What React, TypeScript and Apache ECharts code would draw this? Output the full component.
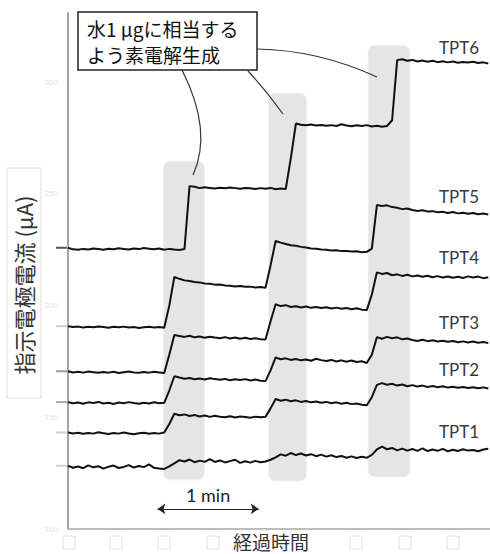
import React, { useEffect, useRef } from "react";
import * as echarts from "echarts";

// elapsed time (s), one sample every 3 s
const TIMES = [0,3,6,9,12,15,18,21,24,27,30,33,36,39,42,45,48,51,54,57,60,63,66,69,72,75,78,81,84,87,90,93,96,99,102,105,108,111,114,117,120,123,126,129,132,135,138,141,144,147,150,153,156,159,162,165,168,171,174,177,180,183,186,189,192,195,198,201,204,207,210,213,216,219,222,225,228,231,234,237,240,243,246,249];

const TPT6 = [225.9,225.2,225.0,225.4,225.1,225.6,225.3,225.0,225.5,225.2,225.7,225.4,225.1,225.6,225.3,225.8,225.5,225.2,225.6,225.0,225.4,225.1,224.9,225.3,
  253.5,253.2,
  252.6,253.0,252.7,252.4,252.8,252.5,252.9,252.6,252.3,252.7,252.5,252.2,252.6,252.3,252.7,252.1,252.4,252.2,
  266.0,281.5,
  281.0,280.7,281.1,280.6,280.9,280.5,280.8,280.4,281.2,280.6,280.3,280.7,280.4,280.8,280.2,280.5,280.1,280.4,
  283.0,
  309.9,310.3,309.6,310.0,309.3,309.7,309.2,309.6,309.0,309.4,308.9,309.3,308.7,309.1,308.8,309.2,308.6,308.9,308.4];

const TPT5 = [190.8,190.4,190.6,190.2,190.5,190.3,190.7,190.4,190.1,190.5,190.3,190.6,190.2,190.4,190.0,190.3,190.5,190.2,190.4,190.1,
  200.0,212.8,
  212.0,211.3,211.0,210.6,210.4,209.9,209.8,209.4,209.5,209.0,208.9,208.6,208.8,208.4,208.5,208.1,208.3,208.0,
  218.0,228.9,
  228.2,227.6,227.0,226.8,226.3,226.0,225.6,225.5,225.1,225.0,224.7,224.8,224.4,224.5,224.2,224.3,223.9,224.1,
  225.5,245.0,
  244.6,244.9,244.1,243.8,243.2,243.5,242.8,242.4,242.7,242.1,242.3,241.8,242.0,241.5,241.9,241.3,241.6,241.1,241.5,240.9,241.2,240.8];

const TPT4 = [170.6,170.1,170.4,170.0,170.5,170.2,169.9,170.3,170.0,170.4,169.8,170.2,170.5,170.1,169.9,170.3,170.0,170.4,170.1,169.8,
  178.0,186.8,
  186.4,186.0,186.5,185.8,186.2,185.6,186.1,185.7,185.4,185.9,185.3,185.7,185.2,185.6,185.1,185.4,185.0,184.8,
  193.0,200.6,
  199.8,200.2,199.4,199.7,199.2,199.6,199.0,199.4,198.9,199.3,198.7,199.1,198.6,198.9,198.4,198.8,198.2,198.0,
  205.0,214.9,
  214.2,214.6,213.6,214.0,213.3,213.8,213.1,213.5,212.9,213.4,212.7,213.2,212.6,213.0,212.5,212.9,212.4,213.1,212.6,213.0,212.3,212.7];

const TPT3 = [156.8,156.3,156.6,156.1,156.7,156.4,156.9,156.2,156.5,156.0,156.6,156.3,156.8,156.4,156.1,156.5,156.2,156.7,156.3,156.5,
  162.0,168.4,
  167.8,167.3,167.6,167.0,167.4,166.9,167.5,167.1,166.8,167.2,166.6,167.0,166.7,167.1,166.5,166.9,166.4,166.2,
  171.0,176.8,
  176.0,176.4,175.7,176.1,175.5,175.9,175.3,176.2,175.6,175.2,175.7,175.0,175.5,174.9,175.4,174.8,175.1,174.3,
  178.0,185.9,
  185.2,186.0,185.4,185.8,184.9,185.3,184.6,184.2,184.7,184.1,184.5,183.9,184.3,183.8,184.2,183.6,184.0,183.5,183.9,183.4,183.7,183.3];

const TPT2 = [143.2,142.8,143.1,142.6,143.0,142.7,143.3,142.9,142.5,143.0,142.7,143.2,142.8,142.4,142.9,143.1,142.6,143.0,142.7,143.2,
  147.0,151.6,
  150.9,151.3,150.6,151.0,150.4,150.8,150.2,150.7,150.3,150.0,150.5,149.9,150.4,150.1,149.8,150.3,150.0,150.2,
  154.0,158.2,
  157.4,157.9,157.2,157.6,156.9,157.3,156.7,157.1,156.5,156.9,156.3,156.7,156.1,156.5,155.9,156.2,155.6,155.4,
  159.0,164.5,
  165.3,164.6,165.0,164.2,164.7,163.9,164.4,163.8,164.2,163.6,164.0,163.5,163.9,163.3,163.7,163.2,163.6,163.1,163.5,163.0,163.4,162.9];

const TPT1 = [128.3,127.4,128.0,127.2,128.5,127.6,128.1,127.0,127.9,128.4,127.3,127.8,128.6,127.5,128.2,127.7,128.9,127.4,127.1,126.9,
  128.0,129.4,130.8,130.2,131.1,129.9,130.6,130.1,131.3,130.0,130.7,129.8,130.4,131.0,129.6,130.3,129.7,130.5,129.9,130.2,
  131.0,132.1,133.4,132.8,134.0,133.1,133.8,132.9,133.5,132.6,133.3,132.4,133.0,132.2,132.7,131.9,132.5,131.8,132.3,131.9,
  133.2,135.6,136.9,135.7,136.3,135.2,136.0,135.1,135.8,135.0,136.1,134.9,135.6,135.0,135.9,134.8,135.5,134.9,135.7,135.1,135.4,134.8,135.6,135.9];

const SERIES_NAMES = ["TPT1", "TPT2", "TPT3", "TPT4", "TPT5", "TPT6"];
const SERIES_VALUES = [TPT1, TPT2, TPT3, TPT4, TPT5, TPT6];
const LABEL_POS = [
  [231.7, 143.5],
  [231.7, 171.3],
  [231.7, 192.4],
  [231.7, 221.5],
  [231.7, 248.9],
  [231.7, 315.7],
];
const TICK_COLORS = ["#cfcfcf", "#cfcfcf", "#a8a8a8", "#9a9a9a", "#cfcfcf", "#555555"];

// shaded electrolysis windows: [t start, t end, low, high]
const BANDS = [
  [56.4, 80.8, 122.0, 264.6],
  [118.8, 141.4, 121.5, 295.1],
  [177.7, 202.6, 123.3, 316.6],
];

// "1 min" scale bar
const SCALE_BAR = { start: 53, end: 113, level: 109 };

const Y_TICKS = { min: 100, max: 331, interval: 50 };

export default function App() {
  const ref = useRef<HTMLDivElement>(null);
  useEffect(() => {
    if (!ref.current) return;
    const chart = echarts.init(ref.current, null, { renderer: "svg" });
    const lineSeries = SERIES_VALUES.map((vals, k) => ({
      name: SERIES_NAMES[k],
      type: "line",
      data: vals.map((v, i) => [TIMES[i], v]),
      showSymbol: false,
      symbol: "none",
      lineStyle: { color: "#111", width: 2 },
      z: 3,
      silent: true,
      markLine:
        k === 0
          ? {
              silent: true,
              symbol: ["arrow", "arrow"],
              symbolSize: 8,
              label: { show: false },
              lineStyle: { color: "#222", width: 1, type: "solid" },
              data: [[{ coord: [SCALE_BAR.start, SCALE_BAR.level] }, { coord: [SCALE_BAR.end, SCALE_BAR.level] }]],
            }
          : undefined,
    }));
    const option: any = {
      animation: false,
      grid: { left: 68, right: 0, top: 13, bottom: 25 },
      xAxis: {
        type: "value",
        min: 0,
        max: 250,
        axisLine: { onZero: false, lineStyle: { color: "#bdbdbd", width: 2 } },
        axisTick: { show: false },
        axisLabel: { show: false },
        splitLine: { show: false },
      },
      yAxis: {
        type: "value",
        min: Y_TICKS.min,
        max: Y_TICKS.max,
        interval: Y_TICKS.interval,
        axisLine: { show: true, lineStyle: { color: "#a3a3a3", width: 2 } },
        axisTick: { show: false },
        axisLabel: { color: "#e4e4e4", fontSize: 8, showMaxLabel: false, margin: 10 },
        splitLine: { show: false },
      },
      series: [
        {
          type: "custom",
          silent: true,
          z: 1,
          encode: { x: [0, 1], y: [2, 3] },
          data: BANDS,
          renderItem: (params: any, api: any) => {
            const p0 = api.coord([api.value(0), api.value(3)]);
            const p1 = api.coord([api.value(1), api.value(2)]);
            return {
              type: "rect",
              shape: { x: p0[0], y: p0[1], width: p1[0] - p0[0], height: p1[1] - p0[1], r: 7 },
              style: { fill: "#e5e5e5", stroke: "#f2f2f2", lineWidth: 1 },
            };
          },
        },
        ...lineSeries,
      ],
    };
    chart.setOption(option);

    const graphics: any[] = [];
    // baseline ticks left of the axis
    SERIES_VALUES.forEach((vals, k) => {
      const p = chart.convertToPixel({ gridIndex: 0 }, [0, vals[0]]) as number[];
      graphics.push({
        type: "line",
        shape: { x1: p[0] - 12, y1: p[1], x2: p[0] - 1, y2: p[1] },
        style: { stroke: TICK_COLORS[k], lineWidth: 2 },
        z: 5,
      });
    });
    // trace labels
    SERIES_NAMES.forEach((name, k) => {
      const p = chart.convertToPixel({ gridIndex: 0 }, LABEL_POS[k]) as number[];
      graphics.push({
        type: "text",
        x: p[0],
        y: p[1],
        style: {
          text: name,
          font: "17px Lato, 'Open Sans', sans-serif",
          fill: "#3a3a3a",
          align: "center",
          verticalAlign: "middle",
          textAlign: "center",
          textVerticalAlign: "middle",
        },
        z: 6,
      });
    });
    // "1 min" label above the scale bar
    const sb0 = chart.convertToPixel({ gridIndex: 0 }, [SCALE_BAR.start, SCALE_BAR.level]) as number[];
    const sb1 = chart.convertToPixel({ gridIndex: 0 }, [SCALE_BAR.end, SCALE_BAR.level]) as number[];
    graphics.push({
      type: "text",
      x: (sb0[0] + sb1[0]) / 2,
      y: sb0[1] - 14,
      style: {
        text: "1 min",
        font: "18px Lato, 'Open Sans', sans-serif",
        fill: "#222",
        align: "center",
        verticalAlign: "middle",
        textAlign: "center",
        textVerticalAlign: "middle",
      },
      z: 6,
    });
    // callout curves
    graphics.push(
      { type: "bezierCurve", shape: { x1: 182, y1: 70, cpx1: 213, cpy1: 131, x2: 193, y2: 175 }, style: { stroke: "#333", lineWidth: 1.2, fill: null }, z: 7 },
      { type: "bezierCurve", shape: { x1: 248, y1: 71, cpx1: 264, cpy1: 88, x2: 283, y2: 114 }, style: { stroke: "#333", lineWidth: 1.2, fill: null }, z: 7 },
      { type: "bezierCurve", shape: { x1: 257, y1: 49, cpx1: 318, cpy1: 50, x2: 377, y2: 77 }, style: { stroke: "#333", lineWidth: 1.2, fill: null }, z: 7 }
    );
    // callout box
    graphics.push(
      { type: "rect", shape: { x: 78, y: 12, width: 179, height: 58 }, style: { fill: "#fff", stroke: "#222", lineWidth: 1.5 }, z: 8 },
      {
        type: "text",
        x: 87,
        y: 28,
        style: { text: "水1 μgに相当する", font: "19px 'Noto Sans CJK JP', sans-serif", fill: "#111", verticalAlign: "middle", textVerticalAlign: "middle" },
        z: 9,
      },
      {
        type: "text",
        x: 87,
        y: 54,
        style: { text: "よう素電解生成", font: "19px 'Noto Sans CJK JP', sans-serif", fill: "#111", verticalAlign: "middle", textVerticalAlign: "middle" },
        z: 9,
      }
    );
    // y-axis title
    graphics.push(
      { type: "rect", shape: { x: 7, y: 168, width: 34, height: 230 }, style: { fill: "none", stroke: "#dedede", lineWidth: 1 }, z: 4 },
      {
        type: "text",
        x: 23,
        y: 285,
        rotation: Math.PI / 2,
        style: {
          text: "指示電極電流 (μA)",
          font: "22px 'Noto Sans CJK JP', sans-serif",
          fill: "#333",
          align: "center",
          verticalAlign: "middle",
          textAlign: "center",
          textVerticalAlign: "middle",
        },
        z: 5,
      }
    );
    // x-axis title
    graphics.push({
      type: "text",
      x: 271,
      y: 541,
      style: {
        text: "経過時間",
        font: "19px 'Noto Sans CJK JP', sans-serif",
        fill: "#333",
        align: "center",
        verticalAlign: "middle",
        textAlign: "center",
        textVerticalAlign: "middle",
      },
      z: 5,
    });
    // faint empty boxes under the axis
    [63, 110, 158, 207, 350, 399, 447].forEach((x) => {
      graphics.push({
        type: "rect",
        shape: { x, y: 536, width: 12, height: 13 },
        style: { fill: "none", stroke: "#e2e2e2", lineWidth: 1 },
        z: 2,
      });
    });
    chart.setOption({ graphic: graphics });
    return () => chart.dispose();
  }, []);
  return (
    <div
      ref={ref}
      style={{ position: "absolute", left: 0, top: 0, width: 490, height: 554, background: "#fff" }}
    />
  );
}
